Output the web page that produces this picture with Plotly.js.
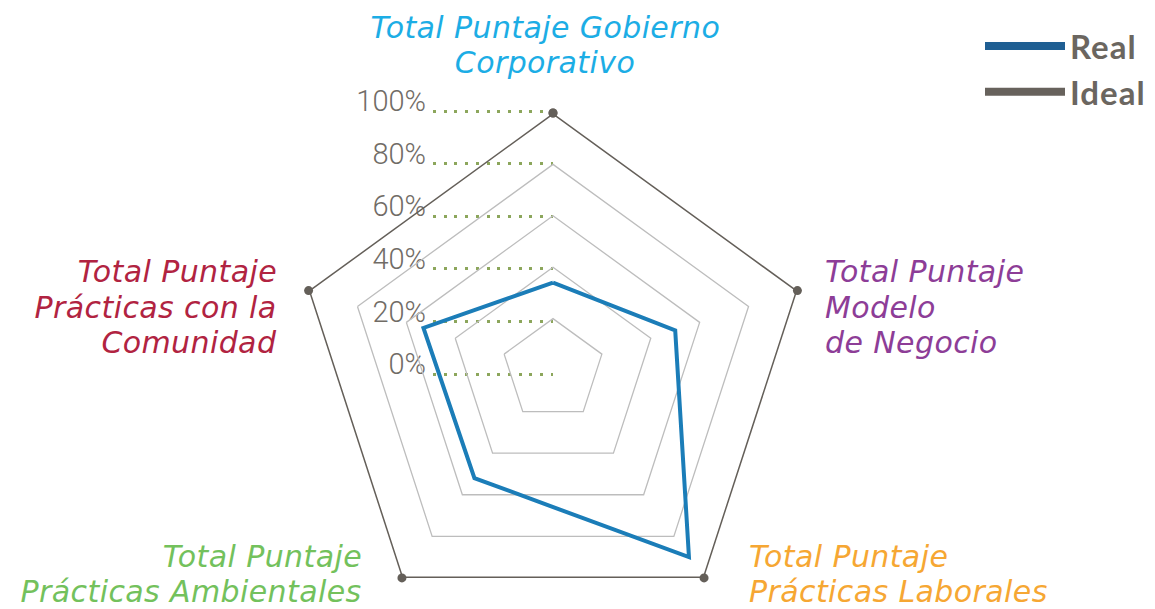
<!DOCTYPE html>
<html>
<head>
<meta charset="utf-8">
<script src="https://cdn.plot.ly/plotly-3.0.1.min.js"></script>
<style>
  html, body { margin:0; padding:0; overflow:hidden; background:#fff; }
  #wrap { width:1155px; height:609px; overflow:hidden; position:relative; }
  #chart { width:1155px; height:630px; }
  #chart .annotation-text { letter-spacing: 0.4px; }
  #chart .legendtext { letter-spacing: 1px; }
</style>
</head>
<body>
<div id="wrap"><div id="chart"></div></div>
<script>
// ---------- data ----------
const categories = [
  'Total Puntaje Gobierno Corporativo',
  'Total Puntaje Modelo de Negocio',
  'Total Puntaje Prácticas Laborales',
  'Total Puntaje Prácticas Ambientales',
  'Total Puntaje Prácticas con la Comunidad'
];
const categoryLines = [
  ['Total Puntaje Gobierno', 'Corporativo'],
  ['Total Puntaje', 'Modelo', 'de Negocio'],
  ['Total Puntaje', 'Prácticas Laborales'],
  ['Total Puntaje', 'Prácticas Ambientales'],
  ['Total Puntaje', 'Prácticas con la', 'Comunidad']
];
const seriesNames = ['Real', 'Ideal'];
const realValues = [34, 50, 90, 52, 53];
const idealValues = [100, 100, 100, 100, 100];
const radialTicks = [0, 20, 40, 60, 80, 100];
const radialTickLabels = ['0%', '20%', '40%', '60%', '80%', '100%'];

// ---------- styles / layout constants ----------
const categoryColors = ['#1cade5', '#8d3d97', '#f6a733', '#73c15c', '#b12341'];
const W = 1155, H = 630;
const px = x => x / W;
const py = y => (H - y) / H;
const CX = 553, CY = 370, R = 257;       // polar centre / radius (pixels)
const Y0 = 374, Y100 = 111;              // leader line pixel rows for 0% and 100%
const k = (Y0 - Y100) / 100;

const labelPlacement = [
  {x: 545, y: 38,  align: 'center', dy: 35.2},
  {x: 824, y: 282, align: 'left',   dy: 35.5},
  {x: 748, y: 567, align: 'left',   dy: 35.2},
  {x: 363, y: 567, align: 'right',  dy: 35.2},
  {x: 278, y: 282, align: 'right',  dy: 35.5}
];
const labelFontSize = 30;

const annotations = [];
categoryLines.forEach((lines, i) => {
  const p = labelPlacement[i];
  lines.forEach((t, j) => {
    annotations.push({
      xref: 'paper', yref: 'paper',
      x: px(p.x), y: py(p.y + j * p.dy - 0.346 * labelFontSize),
      xanchor: p.align, yanchor: 'middle', showarrow: false,
      text: t, align: p.align, borderpad: 0,
      font: {family: 'DejaVu Sans', style: 'italic', size: labelFontSize, color: categoryColors[i]}
    });
  });
});

const theta = categories.concat([categories[0]]);

const data = [
  {
    type: 'scatterpolar', name: seriesNames[1],
    r: idealValues.concat([idealValues[0]]), theta: theta,
    mode: 'lines+markers',
    line: {color: '#645f59', width: 3},
    marker: {color: '#645f59', size: 9},
    showlegend: false, hoverinfo: 'skip'
  },
  {
    type: 'scatterpolar', name: seriesNames[0],
    r: realValues.concat([realValues[0]]), theta: theta,
    mode: 'lines',
    line: {color: '#1b7db8', width: 4},
    showlegend: false, hoverinfo: 'skip'
  },
  // legend-only entries
  {type: 'scatter', x: [null], y: [null], mode: 'lines', name: seriesNames[0],
   line: {color: '#1f5f93', width: 8}, xaxis: 'x', yaxis: 'y'},
  {type: 'scatter', x: [null], y: [null], mode: 'lines', name: seriesNames[1],
   line: {color: '#67625c', width: 8}, xaxis: 'x', yaxis: 'y'}
];

const layout = {
  width: W, height: H,
  margin: {l: 0, r: 0, t: 0, b: 0},
  paper_bgcolor: '#ffffff', plot_bgcolor: 'rgba(0,0,0,0)',
  showlegend: true,
  legend: {
    x: px(980), y: py(18), xanchor: 'left', yanchor: 'top',
    bgcolor: 'rgba(0,0,0,0)', itemwidth: 80,
    font: {family: 'Lato', size: 33, weight: 700, color: '#6b6660'}
  },
  polar: {
    domain: {x: [px(CX - R), px(CX + R)], y: [py(CY + R), py(CY - R)]},
    gridshape: 'linear',
    bgcolor: 'rgba(0,0,0,0)',
    angularaxis: {
      type: 'category', categoryorder: 'array', categoryarray: categories,
      direction: 'clockwise', rotation: 90,
      showticklabels: false, ticks: '', showgrid: false, showline: false
    },
    radialaxis: {
      range: [0, 100], tickvals: radialTicks,
      showticklabels: false, ticks: '', showline: false,
      gridcolor: '#bdbdbd', gridwidth: 1.3
    }
  },
  xaxis: {
    domain: [px(433), px(CX)], range: [0, 1],
    showgrid: false, zeroline: false, showline: false,
    showticklabels: false, ticks: '', fixedrange: true
  },
  yaxis: {
    domain: [py(Y0 + 3 * k), py(Y100 - 3 * k)], range: [-3, 103],
    tickvals: radialTicks, ticktext: radialTickLabels,
    showgrid: true, gridcolor: '#8ca65c', gridwidth: 3, griddash: '3px,7.7px',
    zeroline: false, showline: false, ticks: '', fixedrange: true,
    ticklabelshift: -10, ticklabelstandoff: 6,
    tickfont: {family: 'Roboto', size: 29, weight: 300, color: '#716c66'}
  },
  annotations: annotations
};

Plotly.newPlot('chart', data, layout, {staticPlot: true, displayModeBar: false});
</script>
</body>
</html>
